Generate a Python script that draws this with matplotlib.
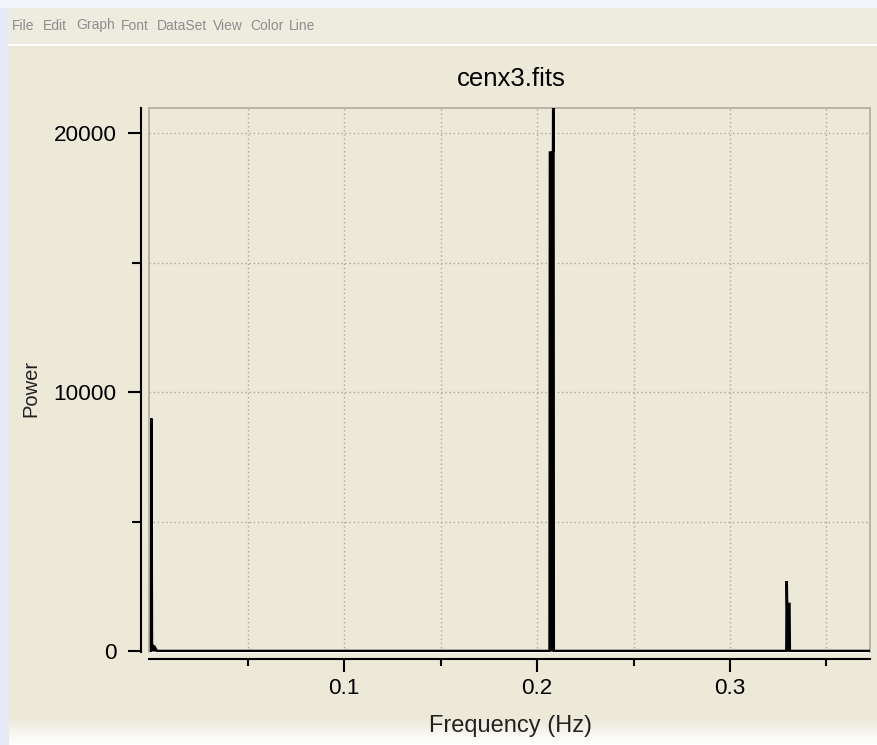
import numpy as np
import matplotlib
matplotlib.use("Agg")
import matplotlib.pyplot as plt
from matplotlib.lines import Line2D
from matplotlib.patches import Rectangle

plt.rcParams['font.family'] = ['Liberation Sans', 'DejaVu Sans']

# periodogram of cenx3.fits (only the bins that stand out, rest is ~0)
freq = [0.0000, 0.0002, 0.0005, 0.0010, 0.0015, 0.0020, 0.0030,
        0.2065, 0.2067, 0.2071, 0.2075, 0.2079, 0.2083, 0.2085, 0.2087,
        0.3292, 0.3294, 0.3296, 0.3300, 0.3304, 0.3308, 0.3310,
        0.3725]
power = [0, 8980, 90, 160, 60, 140, 0,
         0, 19250, 19250, 19250, 19250, 19300, 23500, 0,
         0, 2700, 1800, 1820, 1800, 1810, 0,
         0]

xmajor = [0.1, 0.2, 0.3]
xminor = [0.05, 0.15, 0.25, 0.35]
ymajor = [0, 10000, 20000]
yminor = [5000, 15000]
menu = ['File', 'Edit', 'Graph', 'Font', 'DataSet', 'View', 'Color', 'Line']
menu_x = [12, 43, 76, 121, 157, 213, 250, 289]

W, H = 877, 745
bg = '#ece9d8'
fig = plt.figure(figsize=(W / 100, H / 100), dpi=100, facecolor=bg)

# window decoration
fig.add_artist(Rectangle((0, 0), 9 / W, 1, transform=fig.transFigure,
                         color='#e6eaf6', lw=0, zorder=-5))
fig.add_artist(Rectangle((0, 1 - 8 / H), 1, 8 / H, transform=fig.transFigure,
                         color='#f3f5fb', lw=0, zorder=-5))
fig.add_artist(Rectangle((9 / W, 1 - 44 / H), 1, 36 / H, transform=fig.transFigure,
                         color='#eeebdf', lw=0, zorder=-5))
fig.add_artist(Line2D([9 / W, 1], [1 - 44.5 / H] * 2, transform=fig.transFigure,
                      color='white', lw=1.5))
grad = fig.add_axes([0, 0, 1, 28 / H], zorder=-10)
grad.imshow(np.linspace(0, 1, 50).reshape(-1, 1) * np.ones((1, 2)),
            cmap=matplotlib.colors.LinearSegmentedColormap.from_list('g', ['white', bg]),
            aspect='auto', extent=[0, 1, 0, 1], origin='lower')
grad.set_axis_off()

for name, x in zip(menu, menu_x):
    fig.text(x / W, 1 - 25.5 / H, name, color='#8e8e8e', fontsize=10,
             ha='left', va='center')

# plot area
left, right, top, bottom = 149, 870, 108, 652
ax = fig.add_axes([left / W, 1 - bottom / H, (right - left) / W, (bottom - top) / H])
ax.set_facecolor(bg)

ax.fill_between(freq, 0, power, color='black', lw=0, zorder=3)
ax.plot(freq, power, color='black', lw=1.8, solid_joinstyle='miter', zorder=3)

ax.set_xlim(-0.00104, 0.37254)
ax.set_ylim(-40, 20970)
ax.set_xticks(xmajor)
ax.set_xticks(xminor, minor=True)
ax.set_yticks(ymajor)
ax.set_yticks(yminor, minor=True)
ax.set_xticklabels([str(v) for v in xmajor])
ax.set_yticklabels([str(v) for v in ymajor])

ax.grid(True, which='both', color='#a8a8a8', lw=1.0, linestyle=(0, (1, 2)))
ax.set_axisbelow(True)

ax.spines['left'].set_position(('outward', 5.8))
ax.spines['bottom'].set_position(('outward', 5.0))
for s in ['left', 'bottom']:
    ax.spines[s].set_linewidth(1.5)
    ax.spines[s].set_color('black')
ax.spines['top'].set_color('#b4b1a4')
ax.spines['top'].set_linewidth(1.3)
ax.spines['right'].set_color('#b4b1a4')
ax.spines['right'].set_linewidth(1.3)
# sunken frame edges
ax.add_artist(Line2D([0, 0], [0, 1], transform=ax.transAxes, color='#b4b1a4',
                     lw=1.3, clip_on=False))
ax.add_artist(Line2D([0, 1], [0, 0], transform=ax.transAxes, color='white',
                     lw=1.2, clip_on=False, zorder=1))

ax.tick_params(which='major', direction='out', length=9.4, width=1.5,
               labelsize=16.2, colors='black')
ax.tick_params(which='minor', direction='out', width=1.5)
ax.tick_params(axis='y', which='minor', length=6.5)
ax.tick_params(axis='x', which='minor', length=5)
ax.tick_params(axis='y', which='major', pad=8.0)
ax.tick_params(axis='x', which='major', pad=4)

fig.text(511 / W, 1 - 79 / H, 'cenx3.fits', fontsize=18.5, ha='center', va='center')
fig.text(511 / W, 1 - 726 / H, 'Frequency (Hz)', fontsize=17, ha='center',
         va='center', color='#222222')
fig.text(31 / W, 1 - 388 / H, 'Power', fontsize=14.5, ha='center', va='center',
         rotation=90, color='#222222')

fig.savefig('out.png', dpi=100, facecolor=bg)
